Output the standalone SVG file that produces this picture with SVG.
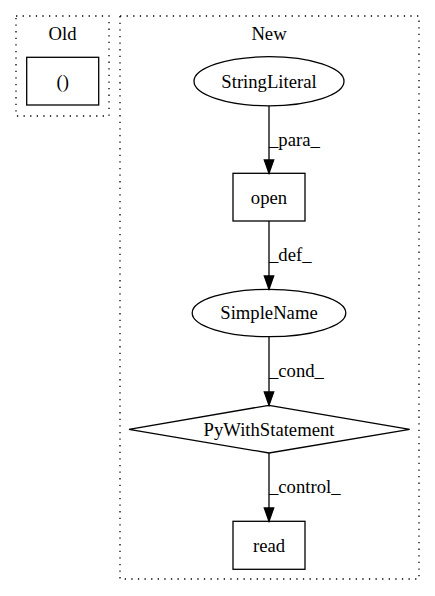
<svg xmlns="http://www.w3.org/2000/svg" width="435" height="596" viewBox="0 0 435 596">
<style>
text{font-family:"Liberation Serif","Times New Roman",serif;font-size:18.67px;fill:#000}
.c{text-anchor:middle}
.cl{fill:none;stroke:#000;stroke-width:1.3;stroke-dasharray:1.3,5.3}
.n{fill:none;stroke:#000;stroke-width:1.3}
.e{stroke:#000;stroke-width:1.3;fill:none}
.ah{fill:#000;stroke:#000;stroke-width:1.3}
</style>
<rect width="435" height="596" fill="#fff"/>
<g id="cluster_old">
<rect class="cl" x="16" y="16" width="93" height="100"/>
<text class="c" x="62.5" y="40">Old</text>
</g>
<g id="cluster_new">
<rect class="cl" x="120" y="16" width="299" height="563"/>
<text class="c" x="269" y="40">New</text>
</g>
<g id="node_paren">
<rect class="n" x="26.7" y="57.3" width="72" height="47.7"/>
<text class="c" x="62.7" y="87.5">()</text>
</g>
<g id="node_stringliteral">
<ellipse class="n" cx="269" cy="81.3" rx="75" ry="24.6"/>
<text class="c" x="269" y="87.5">StringLiteral</text>
</g>
<g id="node_open">
<rect class="n" x="233" y="173.3" width="72" height="47.7"/>
<text class="c" x="269" y="203.5">open</text>
</g>
<g id="node_simplename">
<ellipse class="n" cx="269" cy="313" rx="76.8" ry="23.7"/>
<text class="c" x="269" y="319">SimpleName</text>
</g>
<g id="node_pywith">
<polygon class="n" points="269,405.3 409.7,429.3 269,453 129,429.3"/>
<text class="c" x="269" y="435.5">PyWithStatement</text>
</g>
<g id="node_read">
<rect class="n" x="233" y="521.3" width="72" height="48"/>
<text class="c" x="269" y="551.5">read</text>
</g>
<g id="connectors">
<path class="e" d="M269,106 V160"/>
<polygon class="ah" points="264.3,160 273.7,160 269,173.3"/>
<text x="269" y="146">_para_</text>
<path class="e" d="M269,221 V276"/>
<polygon class="ah" points="264.3,276 273.7,276 269,289.3"/>
<text x="269" y="261">_def_</text>
<path class="e" d="M269,336.7 V392"/>
<polygon class="ah" points="264.3,392 273.7,392 269,405.3"/>
<text x="269" y="377">_cond_</text>
<path class="e" d="M269,453 V508"/>
<polygon class="ah" points="264.3,508 273.7,508 269,521.3"/>
<text x="269" y="493">_control_</text>
</g>
</svg>
